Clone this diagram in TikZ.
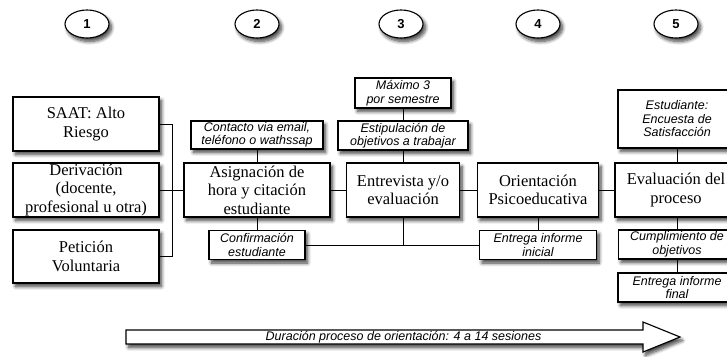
\documentclass[tikz,border=0pt]{standalone}
\usepackage{fontspec}
\setmainfont{Liberation Serif}
\newfontfamily\lsans{Liberation Sans}
\usetikzlibrary{shapes.geometric,shadows.blur}
\begin{document}
\begin{tikzpicture}[x=1pt,y=-1pt,
  shad/.style={blur shadow={shadow xshift=2.5pt,shadow yshift=-3.5pt,shadow blur steps=8,shadow opacity=75,shadow blur radius=3.5pt}},
  box/.style={draw,line width=1.1pt,fill=white,shad,align=center,inner sep=0pt,
    font=\fontsize{16.5}{18.5}\selectfont},
  note/.style={box,font=\lsans\itshape\fontsize{12.5}{13.5}\selectfont},
  num/.style={draw,ellipse,line width=1.1pt,fill=white,shad,minimum width=44pt,minimum height=28pt,inner sep=0pt,
    font=\lsans\bfseries\fontsize{13}{13}\selectfont},
  wire/.style={line width=0.9pt}
]
\useasboundingbox (0,0) rectangle (727,356);

% numbered circles
\node[num] (n1) at (87,24) {1};
\node[num] (n2) at (257,24) {2};
\node[num] (n3) at (401,24) {3};
\node[num] (n4) at (538,24) {4};
\node[num] (n5) at (676,24) {5};

% column 1
\node[box,minimum width=146pt,minimum height=54pt] (saat) at (86,124) {SAAT: Alto\\Riesgo};
\node[box,minimum width=146pt,minimum height=54pt] (deriv) at (86,190) {Derivación\\(docente,\\profesional u otra)};
\node[box,minimum width=146pt,minimum height=53pt] (peti) at (86,256.5) {Petición\\Voluntaria};

% column 2
\node[note,minimum width=132pt,minimum height=28pt] (contacto) at (257,135) {Contacto via email,\\teléfono o wathssap};
\node[box,minimum width=146pt,minimum height=54pt] (asig) at (257,190) {Asignación de\\hora y citación\\estudiante};
\node[note,minimum width=96pt,minimum height=29pt] (confirm) at (257,245) {Confirmación\\estudiante};

% column 3
\node[note,minimum width=96pt,minimum height=30pt] (maximo) at (403,93) {Máximo 3\\por semestre};
\node[note,minimum width=130pt,minimum height=29pt] (estip) at (403,135.5) {Estipulación de\\objetivos a trabajar};
\node[box,minimum width=113pt,minimum height=54pt] (entrev) at (403,190) {Entrevista y/o\\evaluación};

% column 4
\node[box,minimum width=121pt,minimum height=54pt] (orient) at (538,190) {Orientación\\Psicoeducativa};
\node[note,minimum width=117pt,minimum height=29pt] (entini) at (538,245) {Entrega informe\\inicial};

% column 5
\node[note,minimum width=118pt,minimum height=58pt] (estud) at (677,119) {Estudiante:\\Encuesta de\\Satisfacción};
\node[box,minimum width=122pt,minimum height=54pt] (eval) at (676,190) {Evaluación del\\proceso};
\node[note,minimum width=117pt,minimum height=29pt] (cumpl) at (677,244.5) {Cumplimiento de\\objetivos};
\node[note,minimum width=118pt,minimum height=29pt] (entfin) at (677,287.5) {Entrega informe\\final};

% connectors
\coordinate (btop) at (172,124);
\coordinate (bbot) at (172,256.5);
\draw[wire] (saat.east) -- (btop) -- (bbot) -- (peti.east);
\draw[wire] (deriv.east) -- (asig.west);
\draw[wire] (contacto.south) -- (asig.north);
\draw[wire] (asig.south) -- (confirm.north);
\draw[wire] (confirm.east) -- (entini.west);
\draw[wire] (entrev.south) -- (entrev.south |- confirm.east);
\draw[wire] (maximo.south) -- (estip.north);
\draw[wire] (estip.south) -- (entrev.north);
\draw[wire] (asig.east) -- (entrev.west);
\draw[wire] (entrev.east) -- (orient.west);
\draw[wire] (orient.east) -- (eval.west);
\draw[wire] (orient.south) -- (entini.north);
\draw[wire] (estud.south) -- (estud.south |- eval.north);
\draw[wire] (cumpl.north |- eval.south) -- (cumpl.north);
\draw[wire] (cumpl.south) -- (cumpl.south |- entfin.north);

% duration arrow
\draw[line width=1.1pt,fill=white,shad] (126,330) -- (643,330) -- (643,322) -- (680,337) -- (643,352) -- (643,344) -- (126,344) -- cycle;
\node[font=\lsans\itshape\fontsize{12.5}{13}\selectfont,inner sep=0pt] (dur) at (403.5,337.5) {Duración proceso de orientación: 4 a 14 sesiones};
\end{tikzpicture}
\end{document}
